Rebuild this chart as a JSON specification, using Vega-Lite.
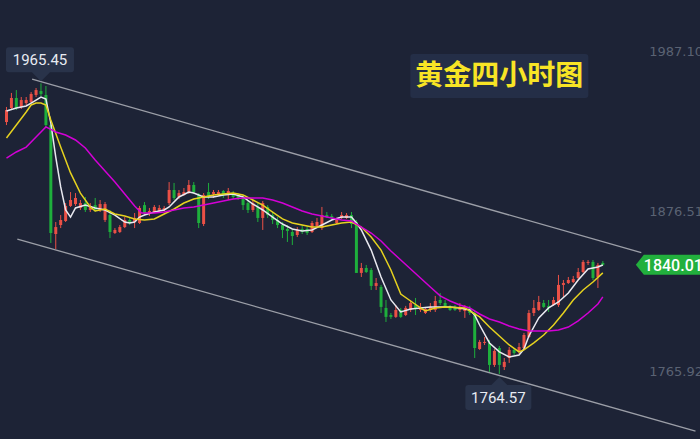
{
  "$schema": "https://vega.github.io/schema/vega-lite/v6.json",
  "width": 700,
  "height": 439,
  "autosize": {"type": "none"},
  "padding": 0,
  "background": "#1d2336",
  "config": {"view": {"stroke": null}, "font": "Roboto"},
  "datasets": {
    "candles": [
      {"i":0,"o":1938.7,"c":1947.0,"h":1949.1,"l":1936.6},
      {"i":1,"o":1948.4,"c":1955.3,"h":1958.8,"l":1947.0},
      {"i":2,"o":1955.3,"c":1948.4,"h":1960.8,"l":1947.0},
      {"i":3,"o":1949.1,"c":1953.9,"h":1956.0,"l":1947.7},
      {"i":4,"o":1951.8,"c":1953.9,"h":1956.0,"l":1950.5},
      {"i":5,"o":1952.5,"c":1958.1,"h":1959.4,"l":1951.8},
      {"i":6,"o":1957.4,"c":1960.8,"h":1962.2,"l":1956.0},
      {"i":7,"o":1960.1,"c":1958.1,"h":1965.45,"l":1956.7},
      {"i":8,"o":1957.4,"c":1936.6,"h":1963.6,"l":1935.3},
      {"i":9,"o":1936.6,"c":1862.0,"h":1937.3,"l":1855.1},
      {"i":10,"o":1861.3,"c":1866.1,"h":1869.6,"l":1850.9},
      {"i":11,"o":1867.5,"c":1871.0,"h":1874.4,"l":1865.4},
      {"i":12,"o":1870.3,"c":1880.7,"h":1882.7,"l":1869.6},
      {"i":13,"o":1880.7,"c":1884.8,"h":1890.3,"l":1880.0},
      {"i":14,"o":1882.0,"c":1886.2,"h":1889.6,"l":1880.7},
      {"i":15,"o":1879.3,"c":1882.7,"h":1884.8,"l":1877.9},
      {"i":16,"o":1882.7,"c":1877.9,"h":1886.9,"l":1876.5},
      {"i":17,"o":1877.9,"c":1880.7,"h":1882.7,"l":1876.5},
      {"i":18,"o":1881.3,"c":1877.9,"h":1886.2,"l":1876.5},
      {"i":19,"o":1877.9,"c":1882.0,"h":1884.8,"l":1876.5},
      {"i":20,"o":1871.0,"c":1882.0,"h":1883.4,"l":1869.6},
      {"i":21,"o":1874.4,"c":1862.7,"h":1877.9,"l":1858.5},
      {"i":22,"o":1862.0,"c":1864.1,"h":1865.4,"l":1861.3},
      {"i":23,"o":1862.7,"c":1866.1,"h":1867.5,"l":1862.0},
      {"i":24,"o":1866.1,"c":1871.0,"h":1873.0,"l":1865.4},
      {"i":25,"o":1871.0,"c":1868.9,"h":1873.0,"l":1867.5},
      {"i":26,"o":1869.6,"c":1872.4,"h":1875.8,"l":1865.4},
      {"i":27,"o":1868.9,"c":1879.3,"h":1880.7,"l":1868.2},
      {"i":28,"o":1881.3,"c":1875.8,"h":1883.4,"l":1874.4},
      {"i":29,"o":1875.1,"c":1877.2,"h":1879.3,"l":1873.7},
      {"i":30,"o":1876.5,"c":1880.0,"h":1881.3,"l":1875.8},
      {"i":31,"o":1877.2,"c":1879.3,"h":1881.3,"l":1875.8},
      {"i":32,"o":1877.9,"c":1879.3,"h":1880.7,"l":1877.2},
      {"i":33,"o":1882.7,"c":1891.7,"h":1897.2,"l":1881.3},
      {"i":34,"o":1891.7,"c":1886.2,"h":1896.6,"l":1884.8},
      {"i":35,"o":1886.9,"c":1889.6,"h":1891.7,"l":1885.5},
      {"i":36,"o":1888.3,"c":1890.3,"h":1893.1,"l":1887.6},
      {"i":37,"o":1889.6,"c":1895.2,"h":1898.6,"l":1889.0},
      {"i":38,"o":1895.2,"c":1890.3,"h":1897.2,"l":1889.0},
      {"i":39,"o":1888.3,"c":1868.9,"h":1889.6,"l":1865.4},
      {"i":40,"o":1868.2,"c":1888.3,"h":1889.6,"l":1866.8},
      {"i":41,"o":1890.3,"c":1886.9,"h":1896.6,"l":1885.5},
      {"i":42,"o":1889.0,"c":1890.3,"h":1891.7,"l":1886.2},
      {"i":43,"o":1888.3,"c":1890.3,"h":1891.7,"l":1887.6},
      {"i":44,"o":1891.0,"c":1888.3,"h":1891.7,"l":1886.2},
      {"i":45,"o":1888.3,"c":1891.0,"h":1893.1,"l":1884.8},
      {"i":46,"o":1889.6,"c":1886.9,"h":1891.0,"l":1885.5},
      {"i":47,"o":1888.3,"c":1886.2,"h":1889.6,"l":1884.8},
      {"i":48,"o":1886.2,"c":1881.3,"h":1888.3,"l":1877.9},
      {"i":49,"o":1882.7,"c":1877.9,"h":1884.8,"l":1875.8},
      {"i":50,"o":1877.9,"c":1882.7,"h":1884.8,"l":1876.5},
      {"i":51,"o":1880.0,"c":1872.4,"h":1882.7,"l":1869.6},
      {"i":52,"o":1872.4,"c":1882.7,"h":1884.1,"l":1864.1},
      {"i":53,"o":1880.0,"c":1874.4,"h":1881.3,"l":1872.4},
      {"i":54,"o":1874.4,"c":1871.0,"h":1876.5,"l":1868.2},
      {"i":55,"o":1871.0,"c":1867.5,"h":1873.0,"l":1865.4},
      {"i":56,"o":1867.5,"c":1864.1,"h":1869.6,"l":1858.5},
      {"i":57,"o":1864.8,"c":1863.4,"h":1867.5,"l":1855.8},
      {"i":58,"o":1862.7,"c":1859.9,"h":1864.8,"l":1853.7},
      {"i":59,"o":1860.6,"c":1864.1,"h":1866.1,"l":1859.2},
      {"i":60,"o":1864.8,"c":1862.7,"h":1867.5,"l":1861.3},
      {"i":61,"o":1864.8,"c":1862.0,"h":1866.8,"l":1860.6},
      {"i":62,"o":1862.7,"c":1868.9,"h":1870.3,"l":1862.0},
      {"i":63,"o":1866.8,"c":1869.6,"h":1872.4,"l":1865.4},
      {"i":64,"o":1865.4,"c":1874.4,"h":1880.0,"l":1864.1},
      {"i":65,"o":1874.4,"c":1873.0,"h":1876.5,"l":1872.4},
      {"i":66,"o":1873.7,"c":1872.4,"h":1875.1,"l":1871.0},
      {"i":67,"o":1868.9,"c":1871.0,"h":1872.4,"l":1868.2},
      {"i":68,"o":1872.4,"c":1874.4,"h":1876.5,"l":1871.7},
      {"i":69,"o":1872.4,"c":1874.4,"h":1875.8,"l":1871.7},
      {"i":70,"o":1874.4,"c":1868.2,"h":1876.5,"l":1865.4},
      {"i":71,"o":1869.6,"c":1834.4,"h":1871.0,"l":1834.4},
      {"i":72,"o":1834.4,"c":1837.8,"h":1841.3,"l":1831.6},
      {"i":73,"o":1837.8,"c":1835.0,"h":1839.9,"l":1834.4},
      {"i":74,"o":1836.4,"c":1825.4,"h":1837.8,"l":1822.6},
      {"i":75,"o":1825.4,"c":1827.4,"h":1830.9,"l":1822.6},
      {"i":76,"o":1824.7,"c":1810.9,"h":1826.1,"l":1806.7},
      {"i":77,"o":1810.2,"c":1804.0,"h":1815.7,"l":1800.5},
      {"i":78,"o":1805.3,"c":1804.0,"h":1806.7,"l":1802.6},
      {"i":79,"o":1804.0,"c":1808.8,"h":1812.2,"l":1803.3},
      {"i":80,"o":1808.8,"c":1804.0,"h":1810.2,"l":1803.3},
      {"i":81,"o":1805.3,"c":1810.2,"h":1811.6,"l":1804.6},
      {"i":82,"o":1808.8,"c":1813.6,"h":1815.7,"l":1807.4},
      {"i":83,"o":1812.2,"c":1810.2,"h":1817.1,"l":1805.3},
      {"i":84,"o":1808.8,"c":1810.9,"h":1813.6,"l":1807.4},
      {"i":85,"o":1806.7,"c":1809.5,"h":1810.9,"l":1806.0},
      {"i":86,"o":1808.8,"c":1810.9,"h":1813.6,"l":1807.4},
      {"i":87,"o":1808.8,"c":1815.0,"h":1818.5,"l":1807.4},
      {"i":88,"o":1815.7,"c":1813.6,"h":1820.5,"l":1812.2},
      {"i":89,"o":1813.6,"c":1810.9,"h":1815.7,"l":1810.2},
      {"i":90,"o":1810.9,"c":1808.8,"h":1812.2,"l":1808.1},
      {"i":91,"o":1810.9,"c":1808.8,"h":1812.2,"l":1808.1},
      {"i":92,"o":1808.8,"c":1810.9,"h":1813.6,"l":1807.4},
      {"i":93,"o":1808.1,"c":1810.2,"h":1812.2,"l":1803.3},
      {"i":94,"o":1810.2,"c":1806.7,"h":1811.6,"l":1805.3},
      {"i":95,"o":1806.7,"c":1782.5,"h":1808.1,"l":1775.6},
      {"i":96,"o":1781.8,"c":1786.7,"h":1788.1,"l":1781.2},
      {"i":97,"o":1786.0,"c":1786.7,"h":1790.1,"l":1784.6},
      {"i":98,"o":1786.0,"c":1770.8,"h":1788.1,"l":1766.0},
      {"i":99,"o":1770.8,"c":1780.5,"h":1781.8,"l":1769.4},
      {"i":100,"o":1782.5,"c":1770.8,"h":1783.9,"l":1764.57},
      {"i":101,"o":1769.4,"c":1772.9,"h":1775.6,"l":1767.3},
      {"i":102,"o":1775.6,"c":1781.2,"h":1783.2,"l":1772.2},
      {"i":103,"o":1781.2,"c":1779.1,"h":1782.5,"l":1777.7},
      {"i":104,"o":1779.8,"c":1783.2,"h":1786.0,"l":1778.4},
      {"i":105,"o":1782.5,"c":1791.5,"h":1792.9,"l":1781.2},
      {"i":106,"o":1790.1,"c":1806.7,"h":1808.8,"l":1789.4},
      {"i":107,"o":1806.7,"c":1810.2,"h":1815.7,"l":1804.6},
      {"i":108,"o":1808.8,"c":1814.3,"h":1818.5,"l":1808.1},
      {"i":109,"o":1813.6,"c":1810.9,"h":1815.7,"l":1810.2},
      {"i":110,"o":1811.6,"c":1810.2,"h":1815.7,"l":1807.4},
      {"i":111,"o":1812.2,"c":1815.7,"h":1817.8,"l":1811.6},
      {"i":112,"o":1812.2,"c":1826.1,"h":1833.0,"l":1810.9},
      {"i":113,"o":1826.1,"c":1827.4,"h":1829.5,"l":1817.8},
      {"i":114,"o":1827.4,"c":1829.5,"h":1831.6,"l":1826.8},
      {"i":115,"o":1828.1,"c":1830.2,"h":1832.3,"l":1827.4},
      {"i":116,"o":1830.9,"c":1835.0,"h":1837.8,"l":1829.5},
      {"i":117,"o":1835.0,"c":1842.0,"h":1843.3,"l":1834.4},
      {"i":118,"o":1841.3,"c":1842.0,"h":1843.3,"l":1839.9},
      {"i":119,"o":1842.0,"c":1830.9,"h":1843.3,"l":1829.5},
      {"i":120,"o":1831.6,"c":1839.9,"h":1841.3,"l":1824.0},
      {"i":121,"o":1841.3,"c":1840.01,"h":1842.6,"l":1839.2}
    ],
    "ma": [
      {"s":"MA5","i":0,"v":1946.3},{"s":"MA5","i":2,"v":1948.4},{"s":"MA5","i":4,"v":1949.8},{"s":"MA5","i":5,"v":1951.8},{"s":"MA5","i":6,"v":1953.9},{"s":"MA5","i":7,"v":1956.0},{"s":"MA5","i":8,"v":1954.6},{"s":"MA5","i":9,"v":1938.0},{"s":"MA5","i":10,"v":1914.5},{"s":"MA5","i":11,"v":1893.8},{"s":"MA5","i":12,"v":1877.9},{"s":"MA5","i":13,"v":1873.0},{"s":"MA5","i":14,"v":1879.3},{"s":"MA5","i":16,"v":1881.3},{"s":"MA5","i":18,"v":1879.3},{"s":"MA5","i":20,"v":1877.9},{"s":"MA5","i":22,"v":1874.4},{"s":"MA5","i":24,"v":1869.6},{"s":"MA5","i":25,"v":1868.9},{"s":"MA5","i":26,"v":1869.6},{"s":"MA5","i":27,"v":1873.0},{"s":"MA5","i":28,"v":1874.4},{"s":"MA5","i":30,"v":1876.5},{"s":"MA5","i":32,"v":1877.9},{"s":"MA5","i":33,"v":1880.0},{"s":"MA5","i":35,"v":1886.9},{"s":"MA5","i":37,"v":1890.3},{"s":"MA5","i":38,"v":1889.6},{"s":"MA5","i":39,"v":1888.3},{"s":"MA5","i":40,"v":1886.9},{"s":"MA5","i":42,"v":1886.9},{"s":"MA5","i":44,"v":1888.3},{"s":"MA5","i":46,"v":1889.0},{"s":"MA5","i":48,"v":1886.9},{"s":"MA5","i":50,"v":1882.0},{"s":"MA5","i":52,"v":1877.9},{"s":"MA5","i":54,"v":1873.0},{"s":"MA5","i":56,"v":1868.2},{"s":"MA5","i":58,"v":1864.8},{"s":"MA5","i":60,"v":1863.4},{"s":"MA5","i":62,"v":1864.1},{"s":"MA5","i":64,"v":1867.5},{"s":"MA5","i":66,"v":1871.0},{"s":"MA5","i":68,"v":1873.0},{"s":"MA5","i":70,"v":1873.0},{"s":"MA5","i":71,"v":1868.9},{"s":"MA5","i":72,"v":1864.1},{"s":"MA5","i":74,"v":1850.2},{"s":"MA5","i":76,"v":1831.6},{"s":"MA5","i":78,"v":1815.7},{"s":"MA5","i":80,"v":1807.4},{"s":"MA5","i":82,"v":1809.5},{"s":"MA5","i":84,"v":1810.2},{"s":"MA5","i":86,"v":1810.9},{"s":"MA5","i":88,"v":1810.9},{"s":"MA5","i":90,"v":1810.9},{"s":"MA5","i":92,"v":1810.2},{"s":"MA5","i":94,"v":1808.8},{"s":"MA5","i":95,"v":1805.3},{"s":"MA5","i":96,"v":1798.4},{"s":"MA5","i":98,"v":1786.0},{"s":"MA5","i":100,"v":1779.8},{"s":"MA5","i":102,"v":1776.3},{"s":"MA5","i":104,"v":1777.7},{"s":"MA5","i":105,"v":1781.8},{"s":"MA5","i":106,"v":1790.8},{"s":"MA5","i":108,"v":1803.3},{"s":"MA5","i":110,"v":1810.2},{"s":"MA5","i":112,"v":1814.3},{"s":"MA5","i":114,"v":1820.5},{"s":"MA5","i":116,"v":1829.5},{"s":"MA5","i":118,"v":1837.1},{"s":"MA5","i":120,"v":1838.5},{"s":"MA5","i":121,"v":1839.9},
      {"s":"MA10","i":0,"v":1927.7},{"s":"MA10","i":2,"v":1936.6},{"s":"MA10","i":4,"v":1945.6},{"s":"MA10","i":5,"v":1950.5},{"s":"MA10","i":6,"v":1951.8},{"s":"MA10","i":7,"v":1951.8},{"s":"MA10","i":8,"v":1950.5},{"s":"MA10","i":9,"v":1940.1},{"s":"MA10","i":11,"v":1921.4},{"s":"MA10","i":13,"v":1903.5},{"s":"MA10","i":15,"v":1889.6},{"s":"MA10","i":17,"v":1880.0},{"s":"MA10","i":18,"v":1877.2},{"s":"MA10","i":20,"v":1878.6},{"s":"MA10","i":22,"v":1875.1},{"s":"MA10","i":24,"v":1873.7},{"s":"MA10","i":26,"v":1871.7},{"s":"MA10","i":28,"v":1871.0},{"s":"MA10","i":30,"v":1871.7},{"s":"MA10","i":32,"v":1875.1},{"s":"MA10","i":34,"v":1878.6},{"s":"MA10","i":36,"v":1882.7},{"s":"MA10","i":38,"v":1885.5},{"s":"MA10","i":40,"v":1886.9},{"s":"MA10","i":42,"v":1888.3},{"s":"MA10","i":44,"v":1889.0},{"s":"MA10","i":46,"v":1889.6},{"s":"MA10","i":48,"v":1888.3},{"s":"MA10","i":50,"v":1884.8},{"s":"MA10","i":52,"v":1881.3},{"s":"MA10","i":54,"v":1876.5},{"s":"MA10","i":56,"v":1871.7},{"s":"MA10","i":58,"v":1868.9},{"s":"MA10","i":60,"v":1867.5},{"s":"MA10","i":62,"v":1866.1},{"s":"MA10","i":64,"v":1866.1},{"s":"MA10","i":66,"v":1867.5},{"s":"MA10","i":68,"v":1868.9},{"s":"MA10","i":70,"v":1869.6},{"s":"MA10","i":72,"v":1866.1},{"s":"MA10","i":74,"v":1859.2},{"s":"MA10","i":76,"v":1850.2},{"s":"MA10","i":78,"v":1836.4},{"s":"MA10","i":80,"v":1819.8},{"s":"MA10","i":82,"v":1815.0},{"s":"MA10","i":84,"v":1810.2},{"s":"MA10","i":85,"v":1808.1},{"s":"MA10","i":87,"v":1810.2},{"s":"MA10","i":89,"v":1810.9},{"s":"MA10","i":93,"v":1810.2},{"s":"MA10","i":96,"v":1804.0},{"s":"MA10","i":98,"v":1797.0},{"s":"MA10","i":100,"v":1790.8},{"s":"MA10","i":102,"v":1784.6},{"s":"MA10","i":104,"v":1779.8},{"s":"MA10","i":105,"v":1781.2},{"s":"MA10","i":107,"v":1786.0},{"s":"MA10","i":109,"v":1791.5},{"s":"MA10","i":111,"v":1798.4},{"s":"MA10","i":113,"v":1806.7},{"s":"MA10","i":115,"v":1815.7},{"s":"MA10","i":117,"v":1822.6},{"s":"MA10","i":119,"v":1828.1},{"s":"MA10","i":121,"v":1834.4},
      {"s":"MA30","i":0,"v":1913.8},{"s":"MA30","i":2,"v":1918.0},{"s":"MA30","i":4,"v":1921.4},{"s":"MA30","i":6,"v":1928.4},{"s":"MA30","i":8,"v":1935.3},{"s":"MA30","i":10,"v":1931.8},{"s":"MA30","i":12,"v":1929.7},{"s":"MA30","i":14,"v":1926.3},{"s":"MA30","i":16,"v":1920.8},{"s":"MA30","i":18,"v":1912.4},{"s":"MA30","i":20,"v":1904.8},{"s":"MA30","i":22,"v":1897.2},{"s":"MA30","i":24,"v":1889.0},{"s":"MA30","i":26,"v":1880.7},{"s":"MA30","i":27.4,"v":1875.8},{"s":"MA30","i":30,"v":1875.8},{"s":"MA30","i":32,"v":1876.5},{"s":"MA30","i":34,"v":1877.9},{"s":"MA30","i":36,"v":1879.3},{"s":"MA30","i":38,"v":1880.0},{"s":"MA30","i":40,"v":1881.3},{"s":"MA30","i":42,"v":1882.7},{"s":"MA30","i":44,"v":1884.1},{"s":"MA30","i":46,"v":1885.5},{"s":"MA30","i":48,"v":1886.2},{"s":"MA30","i":52,"v":1886.2},{"s":"MA30","i":54,"v":1884.8},{"s":"MA30","i":56,"v":1882.7},{"s":"MA30","i":58,"v":1880.0},{"s":"MA30","i":60,"v":1877.2},{"s":"MA30","i":62,"v":1875.1},{"s":"MA30","i":64,"v":1873.7},{"s":"MA30","i":66,"v":1872.4},{"s":"MA30","i":68,"v":1871.0},{"s":"MA30","i":70,"v":1870.3},{"s":"MA30","i":72,"v":1866.1},{"s":"MA30","i":74,"v":1862.0},{"s":"MA30","i":76,"v":1856.5},{"s":"MA30","i":78,"v":1849.6},{"s":"MA30","i":80,"v":1843.3},{"s":"MA30","i":82,"v":1837.1},{"s":"MA30","i":84,"v":1830.9},{"s":"MA30","i":86,"v":1824.7},{"s":"MA30","i":88,"v":1818.5},{"s":"MA30","i":90,"v":1815.0},{"s":"MA30","i":92,"v":1812.2},{"s":"MA30","i":94,"v":1810.2},{"s":"MA30","i":96,"v":1806.0},{"s":"MA30","i":98,"v":1802.6},{"s":"MA30","i":100,"v":1800.5},{"s":"MA30","i":102,"v":1797.7},{"s":"MA30","i":104,"v":1795.7},{"s":"MA30","i":106,"v":1794.3},{"s":"MA30","i":110,"v":1794.3},{"s":"MA30","i":112,"v":1795.0},{"s":"MA30","i":114,"v":1797.0},{"s":"MA30","i":116,"v":1801.2},{"s":"MA30","i":118,"v":1806.7},{"s":"MA30","i":120,"v":1812.9},{"s":"MA30","i":121,"v":1817.8}
    ],
    "channel": [
      {"line":"upper","i":5.2,"p":1968.4},
      {"line":"upper","i":128.8,"p":1848.4},
      {"line":"lower","i":2.2,"p":1857.8},
      {"line":"lower","i":139.8,"p":1725.1}
    ],
    "ticks": [
      {"i":130.4,"p":1987.10,"text":"1987.10"},
      {"i":130.4,"p":1876.51,"text":"1876.51"},
      {"i":130.4,"p":1765.92,"text":"1765.92"}
    ],
    "notes": [
      {"kind":"high","i":7,"p":1965.45,"text":"1965.45"},
      {"kind":"low","i":100,"p":1764.57,"text":"1764.57"},
      {"kind":"last","i":121,"p":1840.01,"text":"1840.01"},
      {"kind":"title","i":100,"p":1970.5,"text":"黄金四小时图"}
    ]
  },
  "layer": [
    {
      "data": {"name": "ticks"},
      "mark": {"type": "text", "font": "DejaVu Sans", "fontSize": 13, "color": "#5a6273", "align": "left", "baseline": "middle"},
      "encoding": {
        "x": {"field": "i", "type": "quantitative", "scale": {"domain": [-0.3, 139.7]}, "axis": null},
        "y": {"field": "p", "type": "quantitative", "scale": {"domain": [1719.61, 2023.04], "zero": false, "nice": false}, "axis": null},
        "text": {"field": "text"}
      }
    },
    {
      "data": {"name": "channel"},
      "mark": {"type": "line", "color": "#9c9fa8", "strokeWidth": 1.3},
      "encoding": {
        "x": {"field": "i", "type": "quantitative", "scale": {"domain": [-0.3, 139.7]}, "axis": null},
        "y": {"field": "p", "type": "quantitative", "scale": {"domain": [1719.61, 2023.04], "zero": false, "nice": false}, "axis": null},
        "detail": {"field": "line"}
      }
    },
    {
      "data": {"name": "candles"},
      "mark": {"type": "rule", "strokeWidth": 1},
      "encoding": {
        "x": {"field": "i", "type": "quantitative", "scale": {"domain": [-0.3, 139.7]}, "axis": null},
        "y": {"field": "l", "type": "quantitative", "scale": {"domain": [1719.61, 2023.04], "zero": false, "nice": false}, "axis": null},
        "y2": {"field": "h"},
        "color": {"condition": {"test": "datum.c < datum.o", "value": "#1eaf3c"}, "value": "#eb5046"}
      }
    },
    {
      "data": {"name": "candles"},
      "mark": {"type": "bar", "size": 3, "orient": "vertical"},
      "encoding": {
        "x": {"field": "i", "type": "quantitative", "scale": {"domain": [-0.3, 139.7]}, "axis": null},
        "y": {"field": "o", "type": "quantitative", "scale": {"domain": [1719.61, 2023.04], "zero": false, "nice": false}, "axis": null},
        "y2": {"field": "c"},
        "color": {"condition": {"test": "datum.c < datum.o", "value": "#1eaf3c"}, "value": "#eb5046"}
      }
    },
    {
      "data": {"name": "ma"},
      "mark": {"type": "line", "strokeWidth": 1.5},
      "encoding": {
        "x": {"field": "i", "type": "quantitative", "scale": {"domain": [-0.3, 139.7]}, "axis": null},
        "y": {"field": "v", "type": "quantitative", "scale": {"domain": [1719.61, 2023.04], "zero": false, "nice": false}, "axis": null},
        "color": {"field": "s", "type": "nominal", "scale": {"domain": ["MA5", "MA10", "MA30"], "range": ["#e9e9f0", "#e6d21f", "#d300d6"]}, "legend": null}
      }
    },
    {
      "data": {"name": "notes"},
      "transform": [{"filter": "datum.kind === 'high'"}],
      "mark": {"type": "point", "filled": true, "opacity": 1, "size": 4, "color": "#29334a", "shape": "M-32,-36 H30 Q33,-36 33,-33 V-14 Q33,-11 30,-11 H9 L0,-2 L-9,-11 H-32 Q-35,-11 -35,-14 V-33 Q-35,-36 -32,-36 Z"},
      "encoding": {
        "x": {"field": "i", "type": "quantitative", "scale": {"domain": [-0.3, 139.7]}, "axis": null},
        "y": {"field": "p", "type": "quantitative", "scale": {"domain": [1719.61, 2023.04], "zero": false, "nice": false}, "axis": null}
      }
    },
    {
      "data": {"name": "notes"},
      "transform": [{"filter": "datum.kind === 'low'"}],
      "mark": {"type": "point", "filled": true, "opacity": 1, "size": 4, "color": "#29334a", "shape": "M-31,11 H-8 L0,3 L8,11 H29 Q32,11 32,14 V33 Q32,36 29,36 H-31 Q-34,36 -34,33 V14 Q-34,11 -31,11 Z"},
      "encoding": {
        "x": {"field": "i", "type": "quantitative", "scale": {"domain": [-0.3, 139.7]}, "axis": null},
        "y": {"field": "p", "type": "quantitative", "scale": {"domain": [1719.61, 2023.04], "zero": false, "nice": false}, "axis": null}
      }
    },
    {
      "data": {"name": "notes"},
      "transform": [{"filter": "datum.kind === 'last'"}],
      "mark": {"type": "point", "filled": true, "opacity": 1, "size": 4, "color": "#22b03d", "shape": "M33,0 L41,-10 H100 V10 H41 Z"},
      "encoding": {
        "x": {"field": "i", "type": "quantitative", "scale": {"domain": [-0.3, 139.7]}, "axis": null},
        "y": {"field": "p", "type": "quantitative", "scale": {"domain": [1719.61, 2023.04], "zero": false, "nice": false}, "axis": null}
      }
    },
    {
      "data": {"name": "notes"},
      "transform": [{"filter": "datum.kind === 'title'"}],
      "mark": {"type": "point", "filled": true, "opacity": 1, "size": 4, "color": "#242e47", "shape": "M-86,-22 H86 Q89,-22 89,-19 V19 Q89,22 86,22 H-86 Q-89,22 -89,19 V-19 Q-89,-22 -86,-22 Z"},
      "encoding": {
        "x": {"field": "i", "type": "quantitative", "scale": {"domain": [-0.3, 139.7]}, "axis": null},
        "y": {"field": "p", "type": "quantitative", "scale": {"domain": [1719.61, 2023.04], "zero": false, "nice": false}, "axis": null}
      }
    },
    {
      "data": {"name": "notes"},
      "transform": [{"filter": "datum.kind === 'high'"}],
      "mark": {"type": "text", "font": "Roboto", "fontSize": 15, "color": "#e8ebf2", "align": "center", "baseline": "middle", "dx": -1, "dy": -23},
      "encoding": {
        "x": {"field": "i", "type": "quantitative", "scale": {"domain": [-0.3, 139.7]}, "axis": null},
        "y": {"field": "p", "type": "quantitative", "scale": {"domain": [1719.61, 2023.04], "zero": false, "nice": false}, "axis": null},
        "text": {"field": "text"}
      }
    },
    {
      "data": {"name": "notes"},
      "transform": [{"filter": "datum.kind === 'low'"}],
      "mark": {"type": "text", "font": "Roboto", "fontSize": 15, "color": "#e8ebf2", "align": "center", "baseline": "middle", "dx": -1, "dy": 24},
      "encoding": {
        "x": {"field": "i", "type": "quantitative", "scale": {"domain": [-0.3, 139.7]}, "axis": null},
        "y": {"field": "p", "type": "quantitative", "scale": {"domain": [1719.61, 2023.04], "zero": false, "nice": false}, "axis": null},
        "text": {"field": "text"}
      }
    },
    {
      "data": {"name": "notes"},
      "transform": [{"filter": "datum.kind === 'last'"}],
      "mark": {"type": "text", "font": "Roboto", "fontSize": 16, "fontWeight": 500, "color": "#ffffff", "align": "left", "baseline": "middle", "dx": 41, "dy": 1},
      "encoding": {
        "x": {"field": "i", "type": "quantitative", "scale": {"domain": [-0.3, 139.7]}, "axis": null},
        "y": {"field": "p", "type": "quantitative", "scale": {"domain": [1719.61, 2023.04], "zero": false, "nice": false}, "axis": null},
        "text": {"field": "text"}
      }
    },
    {
      "data": {"name": "notes"},
      "transform": [{"filter": "datum.kind === 'title'"}],
      "mark": {"type": "text", "font": "Noto Sans CJK SC", "fontSize": 28, "fontWeight": "bold", "color": "#f8e425", "align": "center", "baseline": "middle", "dy": 1},
      "encoding": {
        "x": {"field": "i", "type": "quantitative", "scale": {"domain": [-0.3, 139.7]}, "axis": null},
        "y": {"field": "p", "type": "quantitative", "scale": {"domain": [1719.61, 2023.04], "zero": false, "nice": false}, "axis": null},
        "text": {"field": "text"}
      }
    }
  ]
}
